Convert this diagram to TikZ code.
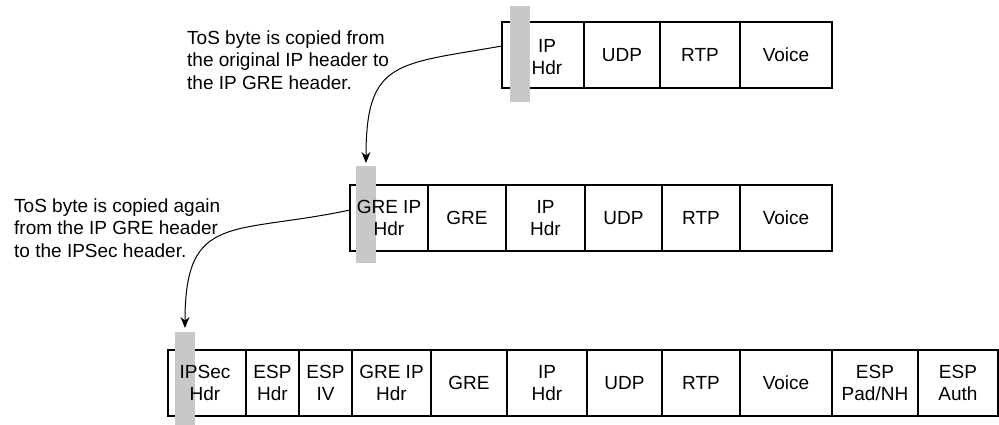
\documentclass[tikz,border=0pt]{standalone}
\usepackage{fontspec}
\setmainfont{Liberation Sans}
\usetikzlibrary{arrows.meta,positioning}
\definecolor{tosgray}{RGB}{200,200,200}

\begin{document}
\begin{tikzpicture}[x=1pt, y=1pt, >={Stealth[length=11pt,width=9pt]},
  cell/.style={draw, line width=1.2pt, minimum height=66pt, inner sep=0pt, outer sep=0pt, align=center, font=\fontsize{19}{21.5}\selectfont},
  tosbar/.style={fill=tosgray, minimum width=20pt, inner sep=0pt, outer sep=0pt},
  hdrtext/.style={inner sep=0pt, align=center, font=\fontsize{19}{21.5}\selectfont},
  note/.style={anchor=north west, inner sep=0pt, align=left, font=\fontsize{19}{22.5}\selectfont}]
\useasboundingbox (0,0) rectangle (999,-425);

% original voice packet
\node[cell, minimum width=82pt] (ip1) at (543,-55) {};
\node[cell, minimum width=76pt, right=0pt of ip1] (udp1) {UDP};
\node[cell, minimum width=80pt, right=0pt of udp1] (rtp1) {RTP};
\node[cell, minimum width=92pt, right=0pt of rtp1] (voice1) {Voice};
\node[tosbar, minimum height=96pt] (tos1) at (520,-54) {};
\node[hdrtext] (ip1txt) at ([xshift=4pt, yshift=-2pt]ip1.center) {IP\\Hdr};

% after GRE
\node[cell, minimum width=78pt] (greip2) at (389,-218) {};
\node[cell, minimum width=78pt, right=0pt of greip2] (gre2) {GRE};
\node[cell, minimum width=79pt, right=0pt of gre2] (ip2) {IP\\Hdr};
\node[cell, minimum width=77pt, right=0pt of ip2] (udp2) {UDP};
\node[cell, minimum width=78pt, right=0pt of udp2] (rtp2) {RTP};
\node[cell, minimum width=92pt, right=0pt of rtp2] (voice2) {Voice};
\node[tosbar, minimum height=97pt] (tos2) at (366,-214.5) {};
\node[hdrtext] (greip2txt) at (greip2) {GRE IP\\Hdr};

% after IPSec
\node[cell, minimum width=78pt] (ipsec3) at (207,-383) {};
\node[cell, minimum width=53pt, right=0pt of ipsec3] (esphdr3) {ESP\\Hdr};
\node[cell, minimum width=53pt, right=0pt of esphdr3] (espiv3) {ESP\\IV};
\node[cell, minimum width=79pt, right=0pt of espiv3] (greip3) {GRE IP\\Hdr};
\node[cell, minimum width=76pt, right=0pt of greip3] (gre3) {GRE};
\node[cell, minimum width=80pt, right=0pt of gre3] (ip3) {IP\\Hdr};
\node[cell, minimum width=75pt, right=0pt of ip3] (udp3) {UDP};
\node[cell, minimum width=78pt, right=0pt of udp3] (rtp3) {RTP};
\node[cell, minimum width=92pt, right=0pt of rtp3] (voice3) {Voice};
\node[cell, minimum width=86pt, right=0pt of voice3] (pad3) {ESP\\Pad/NH};
\node[cell, minimum width=80pt, right=0pt of pad3] (auth3) {ESP\\Auth};
\node[tosbar, minimum height=93pt] (tos3) at (185,-378.5) {};
\node[hdrtext] (ipsec3txt) at ([xshift=-2pt]ipsec3.center) {IPSec\\Hdr};

% notes and copy arrows
\node[note] (note1) at (187,-30.5) {ToS byte is copied from\\the original IP header to\\the IP GRE header.};
\node[note] (note2) at (14,-198.3) {ToS byte is copied again\\from the IP GRE header\\to the IPSec header.};
\draw[->, line width=1pt, shorten >=3pt] ([yshift=9pt]ip1.west) to[out=190, in=90, looseness=1.5] (tos2.north);
\draw[->, line width=1pt, shorten >=4pt] ([yshift=8pt]greip2.west) to[out=192, in=90, looseness=1.5] (tos3.north);
\end{tikzpicture}
\end{document}
